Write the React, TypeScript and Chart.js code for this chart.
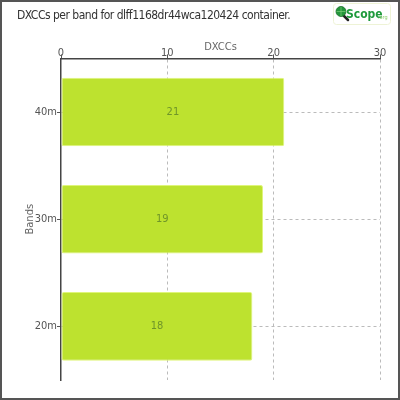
import React, { useEffect, useRef } from "react";
import { Chart, registerables } from "chart.js";

Chart.register(...registerables);

const titleText = "DXCCs per band for dlff1168dr44wca120424 container.";
const bands = ["40m", "30m", "20m"];
const dxccs = [21, 19, 18];
const xAxisTitle = "DXCCs";
const yAxisTitle = "Bands";
const xMin = 0;
const xMax = 30;
const xStep = 10;

const FONT = '"DejaVu Sans Condensed", "Roboto", sans-serif';

const barLabelPlugin = {
  id: "barLabels",
  afterDatasetsDraw(chart: any) {
    const ctx = chart.ctx;
    const meta = chart.getDatasetMeta(0);
    ctx.save();
    ctx.font = `11px ${FONT}`;
    ctx.fillStyle = "#6f9529";
    ctx.textAlign = "center";
    ctx.textBaseline = "middle";
    meta.data.forEach((el: any, i: number) => {
      const cx = (el.x + el.base) / 2;
      ctx.fillText(String(chart.data.datasets[0].data[i]), cx, el.y);
    });
    ctx.restore();
  },
};

export default function App() {
  const ref = useRef<HTMLCanvasElement | null>(null);

  useEffect(() => {
    document.body.style.margin = "0";
    const canvas = ref.current;
    if (!canvas) return;
    const chart = new Chart(canvas, {
      type: "bar",
      data: {
        labels: bands,
        datasets: [
          {
            data: dxccs,
            backgroundColor: "#bde22f",
            borderColor: "#dff57a",
            borderWidth: 1,
            borderRadius: 2,
            borderSkipped: false,
            barPercentage: 0.8,
            categoryPercentage: 0.8,
          },
        ],
      },
      options: {
        indexAxis: "y",
        animation: false,
        responsive: false,
        maintainAspectRatio: false,
        devicePixelRatio: 1,
        layout: { padding: { left: 20, right: 20, top: 41, bottom: 20 } },
        plugins: {
          legend: { display: false },
          tooltip: { enabled: false },
          title: { display: false },
        },
        scales: {
          x: {
            type: "linear",
            position: "top",
            min: xMin,
            max: xMax,
            ticks: {
              stepSize: xStep,
              color: "#555",
              font: { family: FONT, size: 11 },
              padding: -5,
            },
            title: {
              display: true,
              text: xAxisTitle,
              color: "#666",
              font: { family: FONT, size: 11 },
              padding: { top: 0, bottom: -3 },
            },
            grid: {
              color: (c: any) => (c.tick && c.tick.value === 0 ? "rgba(0,0,0,0)" : "#bbbbbb"),
              lineWidth: 1,
              tickColor: "#555",
              tickLength: 4,
              tickBorderDash: [],
            },
            border: { color: "#444", width: 1.5, dash: [3, 3] },
          },
          y: {
            type: "category",
            ticks: {
              color: "#555",
              font: { family: FONT, size: 11 },
              padding: 0,
            },
            title: {
              display: true,
              text: yAxisTitle,
              color: "#666",
              font: { family: FONT, size: 11 },
              padding: { top: 4, bottom: 4 },
            },
            grid: {
              offset: false,
              color: "#bbbbbb",
              lineWidth: 1,
              tickColor: "#555",
              tickLength: 4,
              tickBorderDash: [],
            },
            border: { color: "#444", width: 1.5, dash: [3, 3] },
            afterFit(scale: any) {
              scale.width = 41;
            },
          },
        },
      },
      plugins: [barLabelPlugin],
    });
    return () => chart.destroy();
  }, []);

  return (
    <div style={{ position: "relative", width: 400, height: 400, background: "#fff" }}>
      <canvas ref={ref} width={400} height={400} style={{ position: "absolute", left: 0, top: 0, width: 400, height: 400 }} />
      <div
        style={{
          position: "absolute",
          left: 17,
          top: 8,
          fontFamily: FONT,
          fontSize: 12,
          letterSpacing: "-0.5px",
          color: "#333",
          whiteSpace: "nowrap",
        }}
      >
        {titleText}
      </div>
      <svg
        width="58"
        height="23"
        style={{ position: "absolute", left: 333, top: 3 }}
      >
        <rect x="0.5" y="0.5" width="57" height="21" rx="3" fill="#fff" stroke="#eef3d6" />
        <line x1="10" y1="12" x2="15" y2="17" stroke="#222" strokeWidth="2.5" strokeLinecap="round" />
        <circle cx="8" cy="8.5" r="5" fill="#23963a" stroke="#1a6e2a" strokeWidth="0.8" />
        <path d="M3.5 8.5 H12.5 M8 4 V13" stroke="#7ccf7a" strokeWidth="0.7" />
        <text x="13" y="15" fontFamily={FONT} fontWeight="bold" fontSize="12" fill="#1f9a3c">Scope</text>
        <text x="45" y="16" fontFamily={FONT} fontSize="5.5" fill="#8fd072">.org</text>
      </svg>
      <div
        style={{
          position: "absolute",
          left: 0,
          top: 0,
          width: 400,
          height: 400,
          border: "2px solid #555",
          boxSizing: "border-box",
          pointerEvents: "none",
        }}
      />
    </div>
  );
}
